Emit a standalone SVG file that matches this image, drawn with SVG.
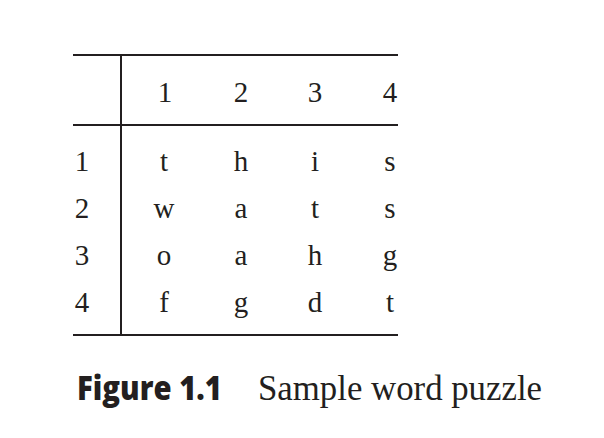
<svg xmlns="http://www.w3.org/2000/svg" width="604" height="438" viewBox="0 0 604 438">
<style>
.ln{stroke:#231f20;stroke-width:2;fill:none}
.t{font-family:"Liberation Serif",serif;font-size:29px;fill:#231f20;text-anchor:middle}
.cap{font-family:"Liberation Serif",serif;font-size:35px;fill:#231f20}
.fig{font-family:"Open Sans","Liberation Sans",sans-serif;font-weight:800;font-size:34px;fill:#231f20}
</style>
<rect width="604" height="438" fill="#fff"/>
<g id="grid">
<line class="ln" x1="73" y1="55" x2="398" y2="55"/>
<line class="ln" x1="73" y1="125" x2="398" y2="125"/>
<line class="ln" x1="73" y1="335" x2="398" y2="335"/>
<line class="ln" x1="121" y1="55" x2="121" y2="335"/>
</g>
<g id="header">
<text class="t" x="165" y="102">1</text>
<text class="t" x="241" y="102">2</text>
<text class="t" x="315" y="102">3</text>
<text class="t" x="390" y="102">4</text>
</g>
<g id="rowlabels">
<text class="t" x="82" y="171">1</text>
<text class="t" x="82" y="218">2</text>
<text class="t" x="82" y="265">3</text>
<text class="t" x="82" y="312">4</text>
</g>
<g id="cells">
<text class="t" x="164" y="171">t</text>
<text class="t" x="241" y="171">h</text>
<text class="t" x="315" y="171">i</text>
<text class="t" x="390" y="171">s</text>
<text class="t" x="164" y="218">w</text>
<text class="t" x="241" y="218">a</text>
<text class="t" x="315" y="218">t</text>
<text class="t" x="390" y="218">s</text>
<text class="t" x="164" y="265">o</text>
<text class="t" x="241" y="265">a</text>
<text class="t" x="315" y="265">h</text>
<text class="t" x="390" y="265">g</text>
<text class="t" x="164" y="312">f</text>
<text class="t" x="241" y="312">g</text>
<text class="t" x="315" y="312">d</text>
<text class="t" x="390" y="312">t</text>
</g>
<g id="caption">
<text class="fig" x="77" y="400" textLength="145" lengthAdjust="spacingAndGlyphs">Figure 1.1</text>
<text class="cap" x="258" y="400" textLength="284" lengthAdjust="spacingAndGlyphs">Sample word puzzle</text>
</g>
</svg>
